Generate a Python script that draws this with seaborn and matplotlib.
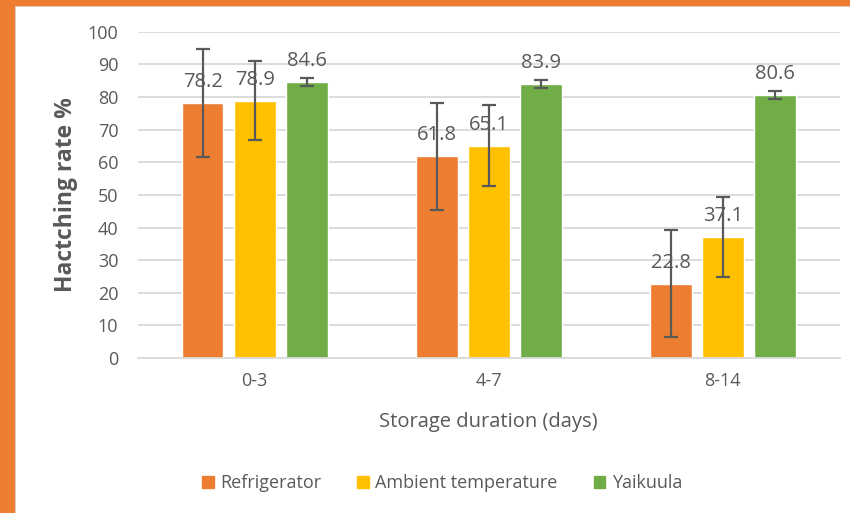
import pandas as pd
import matplotlib.pyplot as plt
import seaborn as sns
from matplotlib.patches import Rectangle
from matplotlib.lines import Line2D

# data
durations = ["0-3", "4-7", "8-14"]
groups = ["Refrigerator", "Ambient temperature", "Yaikuula"]
refrigerator = [78.2, 61.8, 22.8]
ambient = [78.9, 65.1, 37.1]
yaikuula = [84.6, 83.9, 80.6]
err_refrigerator = [16.5, 16.5, 16.4]
err_ambient = [12.2, 12.4, 12.3]
err_yaikuula = [1.2, 1.2, 1.2]

colors = ["#ED7D31", "#FFC000", "#70AD47"]
grey = "#595959"

df = pd.DataFrame({
    "duration": durations * 3,
    "group": [g for g in groups for _ in durations],
    "rate": refrigerator + ambient + yaikuula,
})
errors = [err_refrigerator, err_ambient, err_yaikuula]

sns.set_style("white")
plt.rcParams["font.family"] = ["Open Sans", "DejaVu Sans"]

fig = plt.figure(figsize=(8.5, 5.13), dpi=100)
ax = fig.add_axes([0.162, 0.302, 0.826, 0.636])

sns.barplot(
    data=df, x="duration", y="rate", hue="group",
    hue_order=groups, palette=colors, saturation=1,
    width=0.667, gap=0.2, errorbar=None, legend=False, ax=ax
)

# error bars + labels
for cont, err in zip(ax.containers, errors):
    xs = [b.get_x() + b.get_width() / 2 for b in cont]
    ys = [b.get_height() for b in cont]
    ax.errorbar(xs, ys, yerr=err, fmt="none", ecolor=grey,
                elinewidth=1.6, capsize=5, capthick=1.6, zorder=5)
    ax.bar_label(cont, labels=[f"{v:.1f}" for v in ys], padding=8,
                 fontsize=14.5, color=grey)

ax.set_ylim(0, 100)
ax.set_xlim(-0.5, 2.5)
ax.set_yticks(range(0, 101, 10))
ax.yaxis.grid(True, color="#D9D9D9", linewidth=1.3)
ax.set_axisbelow(True)
for s in ["top", "right", "left"]:
    ax.spines[s].set_visible(False)
ax.spines["bottom"].set_color("#D9D9D9")
ax.spines["bottom"].set_linewidth(1.3)
ax.tick_params(axis="both", length=0, labelsize=13, colors=grey, pad=10)
ax.tick_params(axis="y", pad=14)

ax.set_xlabel("Storage duration (days)", fontsize=14.5, color=grey, labelpad=16)
ax.set_ylabel("Hactching rate %", fontsize=16.5, fontweight="bold",
              color=grey, labelpad=7)

handles = [Rectangle((0, 0), 1, 1, color=c) for c in colors]
fig.legend(handles, groups, loc="center", bbox_to_anchor=(0.52, 0.058),
           ncol=3, frameon=False, fontsize=13, labelcolor=grey,
           handlelength=0.65, handleheight=0.65, handletextpad=0.35,
           columnspacing=2.0)

# orange frame on left and top
fig.patches.append(Rectangle((0, 0), 14 / 850, 1, transform=fig.transFigure,
                             color="#ED7D31", zorder=10))
fig.patches.append(Rectangle((0, 1 - 5 / 513), 1, 5 / 513,
                             transform=fig.transFigure, color="#ED7D31", zorder=10))
fig.lines.append(Line2D([15 / 850, 1], [1 - 6 / 513, 1 - 6 / 513],
                        transform=fig.transFigure, color="#D9D9D9", lw=1.2))
fig.lines.append(Line2D([15 / 850, 15 / 850], [0, 1 - 6 / 513],
                        transform=fig.transFigure, color="#D9D9D9", lw=1.2))

fig.savefig("out.png", dpi=100)
